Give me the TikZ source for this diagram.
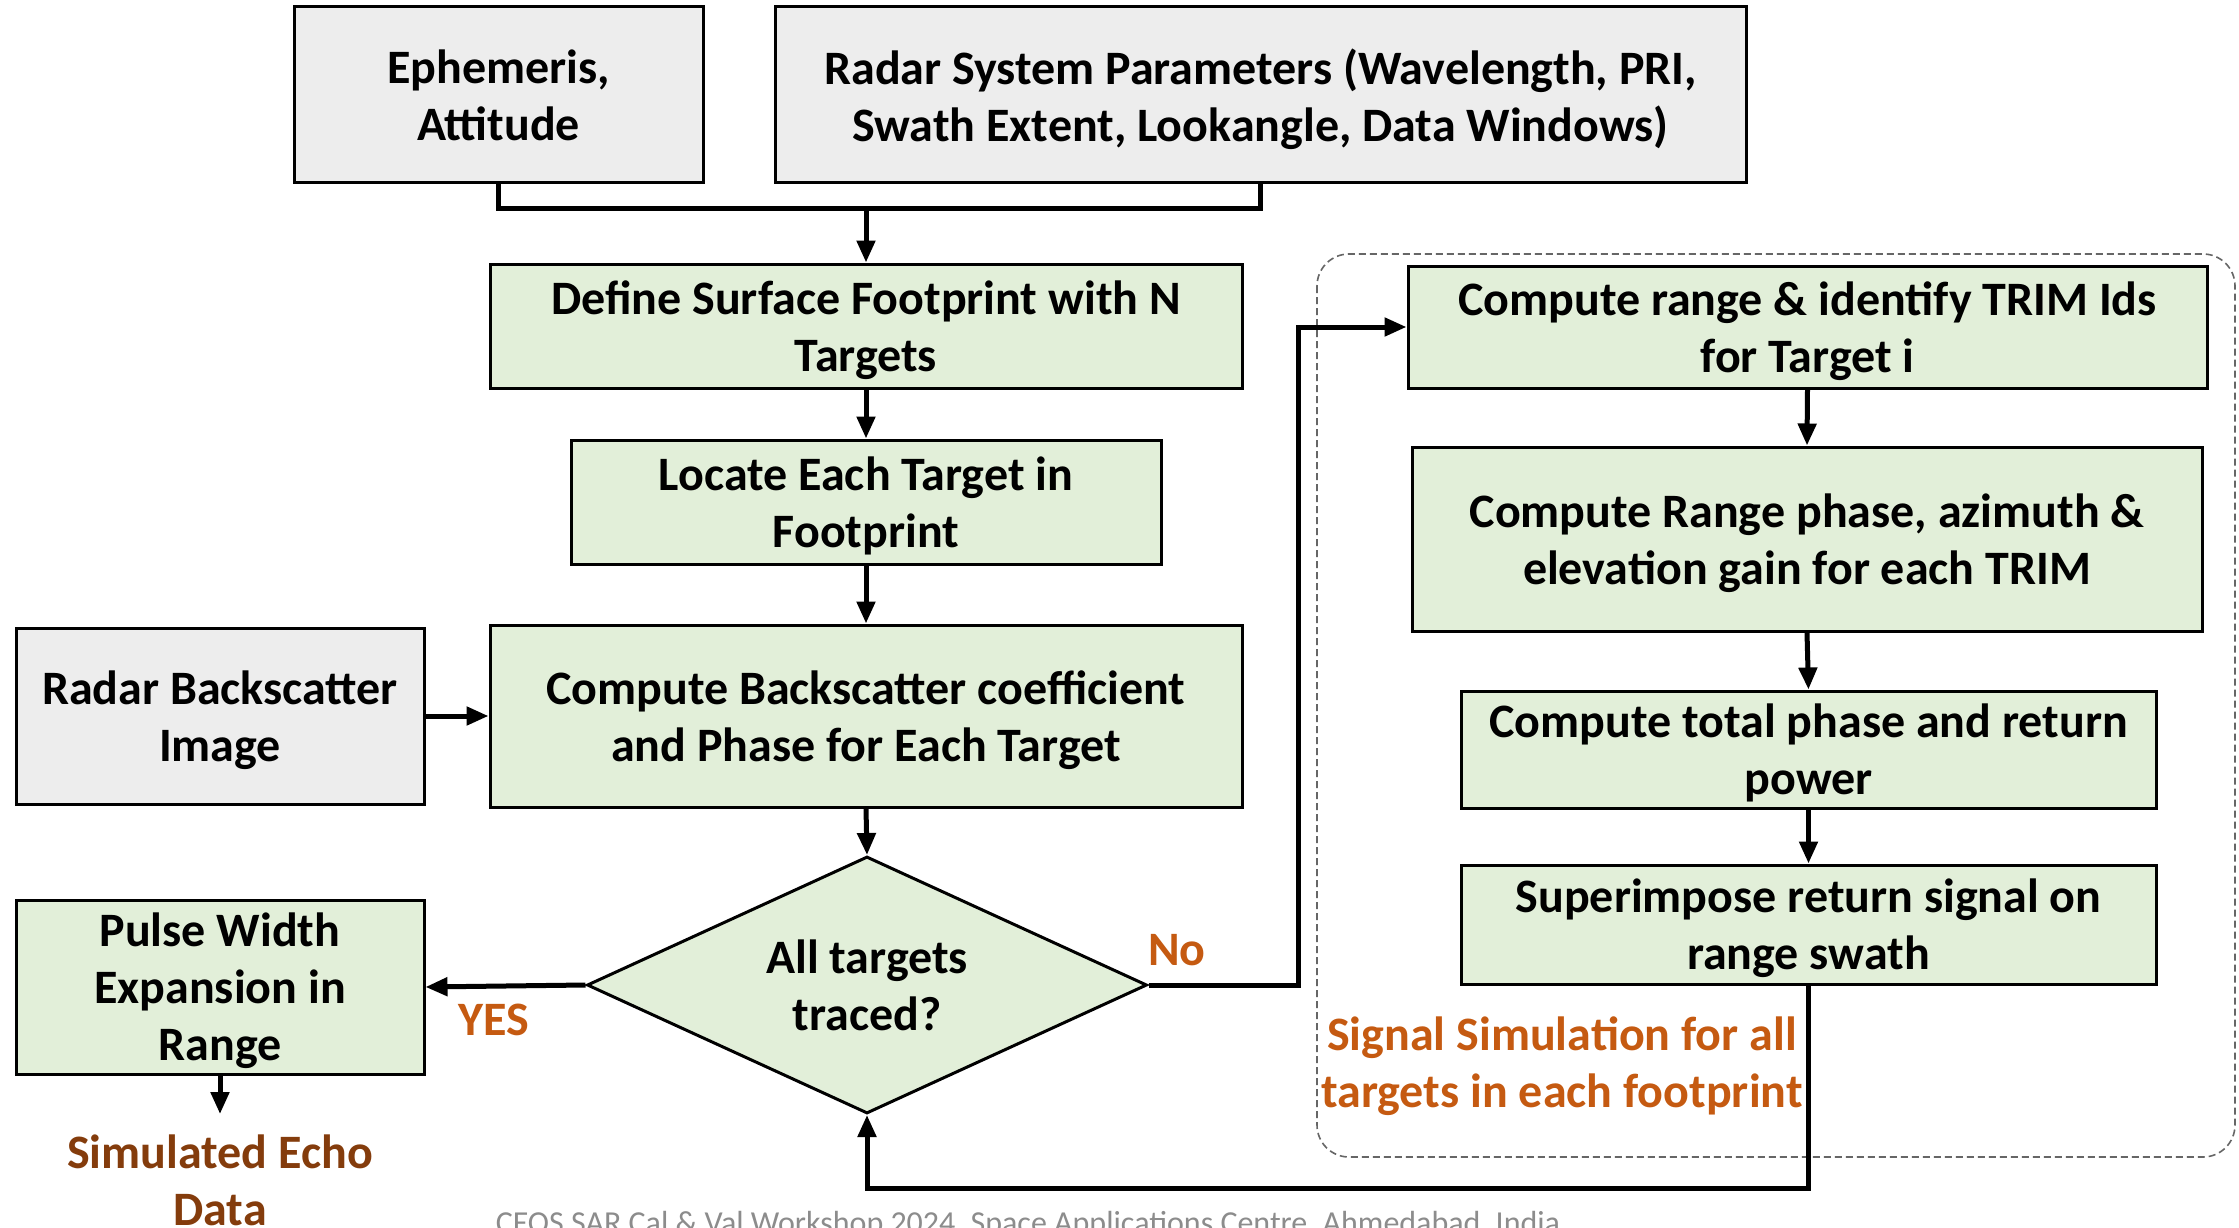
\documentclass[tikz,border=0pt]{standalone}
\usepackage{fontspec}
\setmainfont{Carlito}
\usetikzlibrary{arrows.meta,shapes.geometric}
\definecolor{graybox}{HTML}{EDEDED}
\definecolor{greenbox}{HTML}{E2EFD9}
\definecolor{orangetxt}{HTML}{C55A11}
\definecolor{browntxt}{HTML}{843C0C}
\definecolor{footgray}{HTML}{8C8C8C}
\begin{document}
\begin{tikzpicture}[x=1pt,y=-1pt,
  txt/.style={align=center,inner sep=0pt,font=\fontsize{48}{57}\selectfont\bfseries},
  box/.style={txt,draw=black,line width=3pt,text depth=0pt},
  gbox/.style={box,fill=graybox},
  grbox/.style={box,fill=greenbox},
  lbl/.style={txt,text=orangetxt},
  conn/.style={draw=black,line width=5pt},
  arr/.style={conn,-{Triangle[length=22pt,width=18pt]}},
  frame/.style={draw=black!60,line width=1.6pt,dash pattern=on 7pt off 4pt,rounded corners=32pt}]
\useasboundingbox[fill=white] (0,0) rectangle (2239,1228);

% frame of the signal simulation loop
\draw[frame] (1317,254) rectangle (2235,1157);

% input boxes
\node[gbox,minimum width=409,minimum height=176] (eph) at (498.5,95) {Ephemeris,\\Attitude};
\node[gbox,minimum width=971,minimum height=176] (radar) at (1260.5,95) {Radar System Parameters (Wavelength, PRI,\\Swath Extent, Lookangle, Data Windows)};
\node[gbox,minimum width=408,minimum height=176] (rbi) at (220,716) {Radar Backscatter\\Image};

% main flow
\node[grbox,minimum width=752,minimum height=124] (define) at (866,326) {Define Surface Footprint with N\\Targets};
\node[grbox,minimum width=590,minimum height=124] (locate) at (866,502) {Locate Each Target in\\Footprint};
\node[grbox,minimum width=752,minimum height=182] (back) at (866,716) {Compute Backscatter coefficient\\and Phase for Each Target};
\node[diamond,draw=black,line width=3pt,fill=greenbox,inner sep=0pt,aspect=2.18,minimum width=560,minimum height=257,
      align=center,font=\fontsize{48}{57}\selectfont\bfseries] (dia) at (867,985) {All targets\\traced?};
\node[grbox,minimum width=408,minimum height=174] (pulse) at (220,987) {Pulse Width\\Expansion in\\Range};
\node[txt,text=browntxt] (echo) at (220,1180) {Simulated Echo\\Data};
\coordinate (echotop) at (220,1114);

% signal simulation loop
\node[grbox,minimum width=799,minimum height=122] (crange) at (1807.5,327) {Compute range \& identify TRIM Ids\\for Target i};
\node[grbox,minimum width=790,minimum height=184] (rphase) at (1807,539) {Compute Range phase, azimuth \&\\elevation gain for each TRIM};
\node[grbox,minimum width=695,minimum height=117] (tphase) at (1808.5,749.5) {Compute total phase and return\\power};
\node[grbox,minimum width=695,minimum height=119] (super) at (1808.5,924.5) {Superimpose return signal on\\range swath};

% labels
\node[lbl] (yes) at (494,1020) {YES};
\node[lbl] (no) at (1177,950) {No};
\node[lbl] (sig) at (1562,1066) {Signal Simulation for all\\targets in each footprint};
\node[anchor=base,inner sep=0pt,text=footgray,font=\fontsize{32}{38}\selectfont] (foot) at (1028,1233) {CEOS SAR Cal \& Val Workshop 2024, Space Applications Centre, Ahmedabad, India};

% connectors
\coordinate (join) at (866,208);
\draw[conn] (eph.south) |- (join) -| (radar.south);
\draw[arr] (join) -- (define.north);
\draw[arr] (define.south) -- (locate.north);
\draw[arr] (locate.south) -- (back.north);
\draw[arr] (rbi.east) -- (back.west);
\draw[arr] (back.south) -- (dia.north);
\draw[arr] (dia.west) -- (pulse.east);
\draw[arr] (pulse.south) -- (echotop);
\coordinate (noturn) at (1298,985);
\draw[arr] (dia.east) -- (noturn) |- (crange.west);
\draw[arr] (crange.south) -- (rphase.north);
\draw[arr] (rphase.south) -- (tphase.north);
\draw[arr] (tphase.south) -- (super.north);
\coordinate (loopturn) at (1808.5,1188);
\draw[arr] (super.south) -- (loopturn) -| (dia.south);
\end{tikzpicture}
\end{document}
